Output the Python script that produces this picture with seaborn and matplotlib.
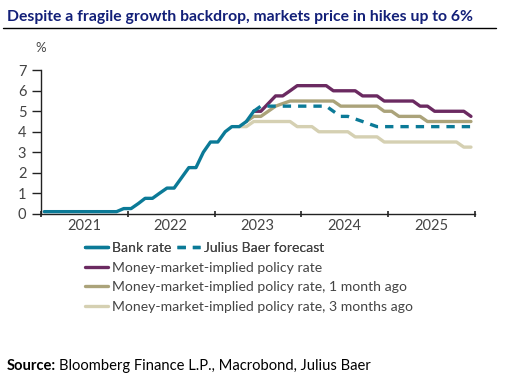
import matplotlib
matplotlib.use("Agg")
import pandas as pd
import matplotlib.pyplot as plt
import matplotlib.dates as mdates
import seaborn as sns

# monthly points, Jan 2021 .. Dec 2025 (plotted mid-month)
months = pd.date_range("2021-01-01", periods=60, freq="MS") + pd.Timedelta(days=14)

# Bank rate: Jan 2021 .. Jun 2023
bank_rate = [0.1, 0.1, 0.1, 0.1, 0.1, 0.1, 0.1, 0.1, 0.1, 0.1, 0.1,
             0.25, 0.25, 0.5, 0.75, 0.75, 1.0, 1.25, 1.25, 1.75, 2.25, 2.25,
             3.0, 3.5, 3.5, 4.0, 4.25, 4.25, 4.5, 5.0]
# Julius Baer forecast: Jun 2023 .. Dec 2025
jb_forecast = [5.0, 5.25, 5.25, 5.25, 5.25, 5.25, 5.25, 5.25, 5.25, 5.25, 5.25,
               5.0, 4.75, 4.75, 4.625, 4.5, 4.375,
               4.25, 4.25, 4.25, 4.25, 4.25, 4.25, 4.25, 4.25, 4.25, 4.25, 4.25,
               4.25, 4.25, 4.25]
# money-market implied: Jun 2023 .. Dec 2025
mm_now = [5.0, 5.0, 5.375, 5.75, 5.75, 6.0, 6.25, 6.25, 6.25, 6.25, 6.25,
          6.0, 6.0, 6.0, 6.0, 5.75, 5.75, 5.75, 5.5, 5.5, 5.5, 5.5, 5.5,
          5.25, 5.25, 5.0, 5.0, 5.0, 5.0, 5.0, 4.75]
# 1 month ago: May 2023 .. Dec 2025
mm_1m = [4.5, 4.75, 4.75, 5.0, 5.25, 5.375, 5.5, 5.5, 5.5, 5.5, 5.5, 5.5, 5.5,
         5.25, 5.25, 5.25, 5.25, 5.25, 5.25, 5.0, 5.0, 4.75, 4.75, 4.75, 4.75,
         4.5, 4.5, 4.5, 4.5, 4.5, 4.5, 4.5]
# 3 months ago: Apr 2023 .. Dec 2025
mm_3m = [4.25, 4.25, 4.5, 4.5, 4.5, 4.5, 4.5, 4.5, 4.25, 4.25, 4.25,
         4.0, 4.0, 4.0, 4.0, 4.0, 3.75, 3.75, 3.75, 3.75,
         3.5, 3.5, 3.5, 3.5, 3.5, 3.5, 3.5, 3.5, 3.5, 3.5, 3.5, 3.25, 3.25]

labels = ["Bank rate", "Julius Baer forecast", "Money-market-implied policy rate",
          "Money-market-implied policy rate, 1 month ago",
          "Money-market-implied policy rate, 3 months ago"]
colors = ["#0b7a97", "#0b7a97", "#6b2a61", "#aba37a", "#d5d0b2"]

sns.set_style("ticks")
plt.rcParams["font.family"] = ["Lato", "DejaVu Sans"]

W, H = 529, 383
fig = plt.figure(figsize=(W / 100, H / 100), dpi=100)
ax = fig.add_axes([41 / W, 1 - 213.7 / H, (475 - 41) / W, (213.7 - 70.3) / H])

lw = 2.4
sns.lineplot(x=months[27:], y=mm_3m, ax=ax, color=colors[4], lw=lw, legend=False)
sns.lineplot(x=months[28:], y=mm_1m, ax=ax, color=colors[3], lw=lw, legend=False)
sns.lineplot(x=months[29:], y=mm_now, ax=ax, color=colors[2], lw=lw, legend=False)
sns.lineplot(x=months[29:], y=jb_forecast, ax=ax, color=colors[1], lw=lw, legend=False)
ax.lines[-1].set_dashes([2.5, 2.1])
sns.lineplot(x=months[:30], y=bank_rate, ax=ax, color=colors[0], lw=lw, legend=False)
h_3m, h_1m, h_now, h_fc, h_bank = ax.lines

ax.set_xlim(pd.Timestamp("2021-01-01"), pd.Timestamp("2026-01-01"))
ax.set_ylim(0, 7)
ax.set_xlabel("")
ax.set_ylabel("")
ax.set_yticks(range(8))
ax.xaxis.set_major_locator(mdates.YearLocator())
ax.xaxis.set_major_formatter(plt.NullFormatter())
ax.xaxis.set_minor_locator(mdates.YearLocator(month=7))
ax.xaxis.set_minor_formatter(mdates.DateFormatter("%Y"))
ax.tick_params(axis="x", which="major", direction="inout", length=5, width=1.2, color="#222")
ax.tick_params(axis="x", which="minor", length=0, pad=3.5, labelsize=10.5, labelcolor="#444")
ax.tick_params(axis="y", length=6.5, width=1, color="#222", pad=4, labelsize=10.5, labelcolor="#444")
sns.despine(ax=ax)
for s in ["left", "bottom"]:
    ax.spines[s].set_color("#222")
    ax.spines[s].set_linewidth(1)

fig.text(35 / W, 1 - 48 / H, "%", fontsize=9.5, color="#444", va="center", ha="left")

# title and rule
fig.text(7 / W, 1 - 17 / H, "Despite a fragile growth backdrop, markets price in hikes up to 6%",
         fontsize=11.3, fontweight="bold", color="#121f78", va="center", ha="left")
fig.add_artist(plt.Line2D([3 / W, 496 / W], [1 - 28 / H, 1 - 28 / H], color="black", lw=1))

# legend
leg_kw = dict(frameon=False, fontsize=10.1, handlelength=1.65, handletextpad=0.28,
              borderpad=0, borderaxespad=0, labelcolor="#444", loc="upper left",
              labelspacing=0.52)
leg1 = fig.legend([h_bank, h_fc], labels[:2], ncol=2, columnspacing=0.42,
                  bbox_to_anchor=(85 / W, 1 - 242 / H), **leg_kw)
leg2 = fig.legend([h_now, h_1m, h_3m], labels[2:],
                  bbox_to_anchor=(85 / W, 1 - 262 / H), **leg_kw)
fig.add_artist(leg1)

# source
src = fig.text(7 / W, 1 - 366 / H, "Source:", fontsize=10.6, fontweight="bold",
               color="black", va="center", ha="left")
fig.canvas.draw()
bb = src.get_window_extent()
fig.text((bb.x1 + 3) / W, 1 - 366 / H, "Bloomberg Finance L.P., Macrobond, Julius Baer",
         fontsize=10.6, color="black", va="center", ha="left")

fig.savefig("out.png", dpi=100)
